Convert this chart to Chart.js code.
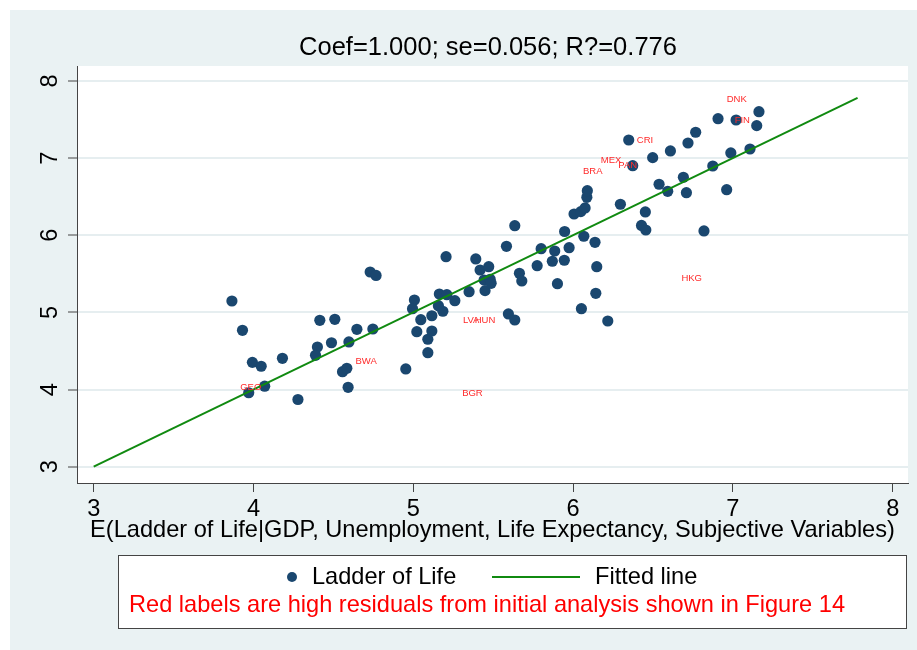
<!DOCTYPE html>
<html>
<head>
<meta charset="utf-8">
<script src="https://cdn.jsdelivr.net/npm/chart.js@4.4.1/dist/chart.umd.min.js"></script>
<style>
  html, body { margin: 0; padding: 0; background: #fff; }
  #wrap { width: 917px; height: 650px; }
</style>
</head>
<body>
<div id="wrap"><canvas id="chart" width="917" height="650"></canvas></div>
<script>
// predicted ladder (x) against observed ladder of life (y), one point per country
const predicted = [
  3.865, 3.931, 3.993, 4.048, 3.970, 4.070, 4.278, 4.181, 4.400, 4.388,
  4.415, 4.509, 4.488, 4.557, 4.584, 4.597, 4.592, 4.647, 4.747, 4.730,
  4.767, 4.953, 5.007, 4.995, 5.047, 5.022, 5.116, 5.091, 5.116, 5.091,
  5.163, 5.157, 5.185, 5.210, 5.205, 5.260, 5.349, 5.391, 5.418, 5.443,
  5.472, 5.449, 5.481, 5.487, 5.583, 5.635, 5.664, 5.679, 5.595, 5.635,
  5.775, 5.800, 5.870, 5.885, 5.902, 5.945, 5.975, 5.947, 6.067, 6.137,
  6.148, 6.142, 6.052, 6.217, 6.006, 6.048, 6.075, 6.086, 6.089, 6.296,
  6.348, 6.373, 6.428, 6.455, 6.452, 6.498, 6.538, 6.592, 6.609, 6.690,
  6.709, 6.719, 6.767, 6.819, 6.874, 6.907, 6.961, 6.987, 7.020, 7.107,
  7.149, 7.163
];
const ladder = [
  5.148, 4.768, 4.353, 4.302, 3.959, 4.044, 3.871, 4.405, 4.552, 4.444,
  4.898, 4.911, 4.607, 4.232, 4.276, 4.617, 4.029, 4.781, 4.785, 5.524,
  5.479, 4.267, 5.161, 5.048, 4.906, 4.750, 4.957, 4.652, 4.759, 4.478,
  5.239, 5.087, 5.015, 5.230, 5.722, 5.152, 5.269, 5.693, 5.550, 5.420,
  5.593, 5.282, 5.429, 5.377, 5.857, 6.124, 5.507, 5.407, 4.980, 4.902,
  5.606, 5.826, 5.663, 5.796, 5.372, 5.676, 5.839, 6.049, 5.987, 5.909,
  5.593, 5.248, 5.048, 4.889, 6.276, 6.306, 6.354, 6.492, 6.578, 6.402,
  7.235, 6.902, 6.127, 6.068, 6.302, 7.006, 6.661, 6.570, 7.093, 6.752,
  6.552, 7.196, 7.335, 6.056, 6.898, 7.511, 6.591, 7.067, 7.494, 7.118,
  7.421, 7.602
];
// fitted line end points
const fitX = [3, 7.78];
const fitY = [3, 7.78];

const xTicks = [3, 4, 5, 6, 7, 8];
const yTicks = [3, 4, 5, 6, 7, 8];

// red labels (high residuals in the earlier analysis)
const labelCodes = ['DNK', 'FIN', 'CRI', 'MEX', 'PAN', 'BRA', 'HKG', 'LVA', 'HUN', 'BWA', 'GEO', 'BGR'];
const labelX = [7.024, 7.059, 6.450, 6.238, 6.342, 6.123, 6.742, 5.362, 5.449, 4.705, 3.983, 5.370];
const labelY = [7.767, 7.494, 7.235, 6.967, 6.902, 6.824, 5.437, 4.898, 4.898, 4.361, 4.024, 3.946];

const titleText = 'Coef=1.000; se=0.056; R?=0.776';
const xTitle = 'E(Ladder of Life|GDP, Unemployment, Life Expectancy, Subjective Variables)';
const seriesNames = ['Ladder of Life', 'Fitted line'];
const noteText = 'Red labels are high residuals from initial analysis shown in Figure 14';

const FONT = "'Liberation Sans', Arial, sans-serif";
const NAVY = '#1a476f';
const GREEN = '#108a10';
const AXIS = '#444';
const GRID = '#e6eef0';

const decor = {
    id: 'decor',
    beforeDraw(chart) {
        const { ctx, chartArea: a } = chart;
        ctx.save();
        ctx.fillStyle = '#fff';
        ctx.fillRect(0, 0, chart.width, chart.height);
        ctx.fillStyle = '#eaf2f3';
        ctx.fillRect(10, 10, chart.width - 10, chart.height - 10);
        ctx.fillStyle = '#fff';
        ctx.fillRect(a.left, a.top, a.right - a.left, a.bottom - a.top);
        ctx.restore();
    },
    afterDatasetsDraw(chart) {
        const { ctx } = chart;
        const sx = chart.scales.x, sy = chart.scales.y;
        ctx.save();
        ctx.fillStyle = '#ff2a2a';
        ctx.font = '9.5px ' + FONT;
        ctx.textAlign = 'center';
        ctx.textBaseline = 'middle';
        labelCodes.forEach((c, i) => {
            ctx.fillText(c, sx.getPixelForValue(labelX[i]), sy.getPixelForValue(labelY[i]));
        });
        ctx.restore();
    },
    afterDraw(chart) {
        const { ctx } = chart;
        const sy = chart.scales.y;
        ctx.save();

        // title
        ctx.fillStyle = '#000';
        ctx.font = '25.5px ' + FONT;
        ctx.textAlign = 'center';
        ctx.textBaseline = 'middle';
        ctx.fillText(titleText, 488, 48);

        // rotated y tick labels
        ctx.font = '23.6px ' + FONT;
        yTicks.forEach(v => {
            ctx.save();
            ctx.translate(50, sy.getPixelForValue(v));
            ctx.rotate(-Math.PI / 2);
            ctx.fillText(String(v), 0, 0);
            ctx.restore();
        });

        // legend box
        ctx.fillStyle = '#fff';
        ctx.fillRect(118, 555, 788, 73);
        ctx.strokeStyle = AXIS;
        ctx.lineWidth = 1;
        ctx.strokeRect(118.5, 555.5, 788, 73);

        ctx.fillStyle = NAVY;
        ctx.beginPath();
        ctx.arc(292, 577, 5, 0, Math.PI * 2);
        ctx.fill();

        ctx.strokeStyle = GREEN;
        ctx.lineWidth = 2;
        ctx.beginPath();
        ctx.moveTo(492, 577);
        ctx.lineTo(580, 577);
        ctx.stroke();

        ctx.fillStyle = '#000';
        ctx.textAlign = 'left';
        ctx.fillText(seriesNames[0], 312, 577);
        ctx.fillText(seriesNames[1], 595, 577);

        ctx.fillStyle = '#ff0000';
        ctx.textAlign = 'center';
        ctx.fillText(noteText, 487, 605);
        ctx.restore();
    }
};

const ctx = document.getElementById('chart').getContext('2d');
new Chart(ctx, {
    type: 'scatter',
    data: {
        datasets: [
            {
                type: 'line',
                label: seriesNames[1],
                data: fitX.map((x, i) => ({ x, y: fitY[i] })),
                borderColor: GREEN,
                borderWidth: 2,
                pointRadius: 0,
                fill: false,
                order: 0
            },
            {
                label: seriesNames[0],
                data: predicted.map((x, i) => ({ x, y: ladder[i] })),
                backgroundColor: NAVY,
                borderColor: NAVY,
                borderWidth: 0,
                pointRadius: 5.6,
                order: 1
            }
        ]
    },
    options: {
        responsive: false,
        animation: false,
        events: [],
        layout: { padding: { top: 66, right: 9, bottom: 0, left: 0 } },
        plugins: {
            legend: { display: false },
            title: { display: false },
            tooltip: { enabled: false }
        },
        scales: {
            x: {
                type: 'linear',
                min: 2.8955,
                max: 8.0957,
                afterBuildTicks: s => { s.ticks = xTicks.map(v => ({ value: v })); },
                afterFit: s => { s.height = 167; },
                border: { display: true, color: AXIS, width: 1 },
                grid: { drawOnChartArea: false, drawTicks: true, tickLength: 9, tickColor: AXIS, tickWidth: 1 },
                ticks: {
                    color: '#000',
                    font: { family: FONT, size: 23.6, lineHeight: 1.2 },
                    padding: 3.8,
                    maxRotation: 0,
                    autoSkip: false
                },
                title: {
                    display: true,
                    text: xTitle,
                    color: '#000',
                    font: { family: FONT, size: 23.6, lineHeight: 1.2 },
                    padding: { top: 0, bottom: 105.3 }
                }
            },
            y: {
                type: 'linear',
                min: 2.789,
                max: 8.194,
                afterBuildTicks: s => { s.ticks = yTicks.map(v => ({ value: v })); },
                afterFit: s => { s.width = 77; },
                border: { display: true, color: AXIS, width: 1 },
                grid: { color: GRID, lineWidth: 2, drawTicks: true, tickLength: 9, tickColor: AXIS, tickWidth: 1 },
                ticks: { display: false }
            }
        }
    },
    plugins: [decor]
});
</script>
</body>
</html>
